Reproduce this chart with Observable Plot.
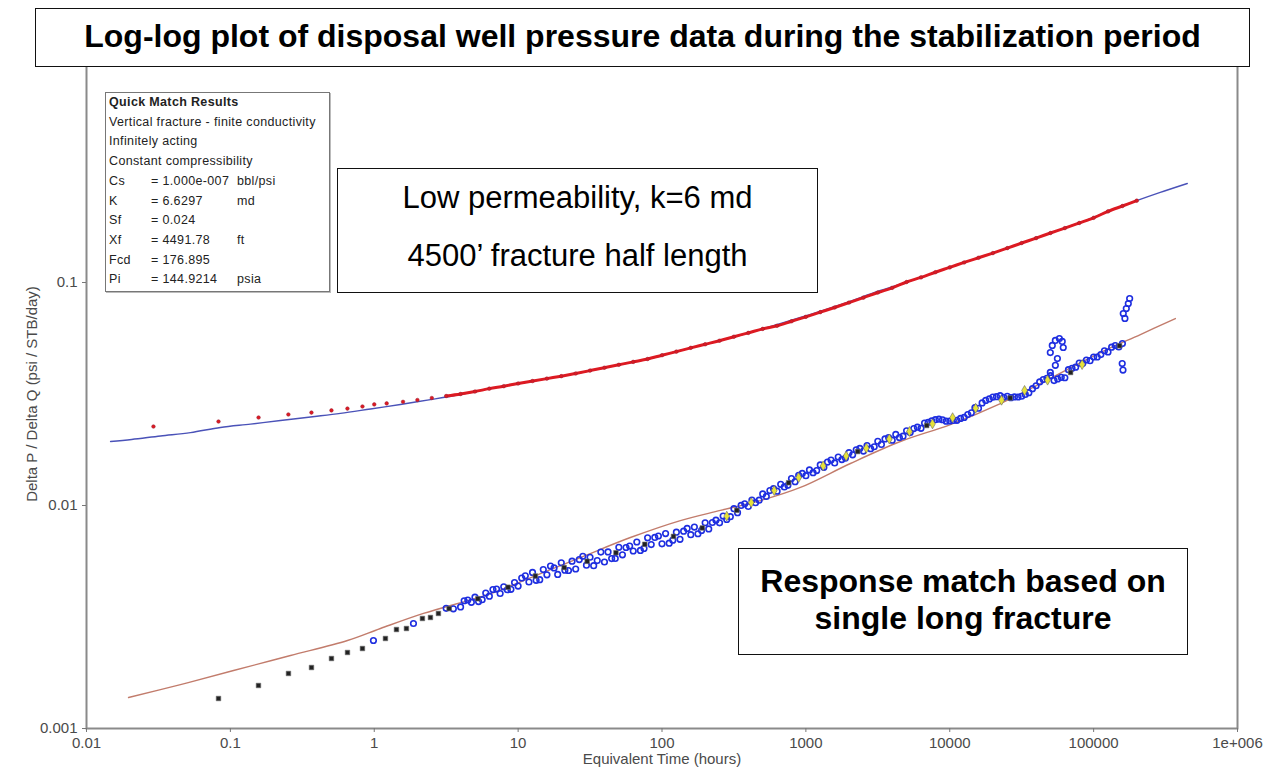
<!DOCTYPE html>
<html><head><meta charset="utf-8">
<script src="https://cdn.jsdelivr.net/npm/d3@7"></script>
<script src="https://cdn.jsdelivr.net/npm/@observablehq/plot@0.6"></script>
<style>
body{margin:0;background:#fff;font-family:Arial,"Liberation Sans",sans-serif;}
#wrap{position:relative;width:1270px;height:772px;overflow:hidden;background:#fff}
#chart{position:absolute;left:0;top:0}
.box{position:absolute;background:#fff;box-sizing:border-box}
#title{left:35px;top:8px;width:1215px;height:59px;border:1.5px solid #111;font-weight:bold;font-size:32px;text-align:center;line-height:55px;color:#000}
#qm{left:105px;top:92px;width:225px;height:200px;border:1px solid #777;box-shadow:1px 1px 0 #bbb;font-size:12.5px;letter-spacing:0.35px;color:#222;padding:0 0 0 3px;line-height:19.7px}
#qm .r{white-space:nowrap}
#qm .a{display:inline-block;width:42px}
#qm .b{display:inline-block;width:86px}
#perm{left:337px;top:168px;width:481px;height:125px;border:1.5px solid #111;font-size:31px;text-align:center;color:#000}
#perm div{position:absolute;left:0;right:0}
#resp{left:738px;top:548px;width:450px;height:107px;border:1.5px solid #111;font-size:32px;font-weight:bold;text-align:center;color:#000}
#resp div{position:absolute;left:0;right:0}
</style></head><body><div id="wrap"><div id="chart"></div></div>
<script>
// ---------- data ----------
const xTicks = [0.01, 0.1, 1, 10, 100, 1000, 10000, 100000, 1000000];
const yTicks = [0.001, 0.01, 0.1];

// upper model curve (blue line)
const upperModelT = [0.0147,0.0206,0.0327,0.0528,0.0853,0.138,0.223,0.361,0.582,0.942,1.52,2.46,3.97,6.43,12.2,23.1,43.8,83,134,255,483,916,1738,3296,6252,11858,22491,42658,80910,130617,201372,290402,447713];
const upperModelV = [0.01936,0.01977,0.02051,0.02123,0.02239,0.02317,0.02404,0.02495,0.02588,0.0271,0.02838,0.02985,0.03148,0.0335,0.03597,0.03864,0.04198,0.0456,0.04955,0.05495,0.06152,0.06966,0.07962,0.09204,0.1052,0.1216,0.139,0.1607,0.1858,0.2104,0.2333,0.2535,0.278];

// upper measured data (red)
const redT = [0.0292,0.0827,0.157,0.253,0.366,0.504,0.651,0.828,1.0,1.22,1.585,1.995,2.512,3.162,3.981,5.012,6.31,7.943,10,12.59,15.85,19.95,25.12,31.62,39.81,50.12,63.1,79.43,100,125.9,158.5,199.5,251.2,316.2,398.1,501.2,631,794.3,1000,1259,1585,1995,2512,3162,3981,5012,6310,7943,10000,12590,15850,19950,25120,31620,39810,50120,63100,79430,100000,125900,158500,199500];
const redV = [0.0226,0.0238,0.0248,0.0256,0.0261,0.0267,0.0272,0.0278,0.0284,0.0287,0.02917,0.02972,0.03034,0.03097,0.03162,0.03243,0.03342,0.03428,0.03524,0.03614,0.03707,0.03802,0.03908,0.04027,0.0415,0.04276,0.04406,0.04539,0.04721,0.04898,0.05093,0.05284,0.05483,0.05715,0.05943,0.06194,0.06397,0.06699,0.07015,0.07362,0.07727,0.08128,0.08551,0.09016,0.09462,0.1005,0.1054,0.1112,0.1169,0.123,0.1291,0.1355,0.1426,0.1503,0.1581,0.1667,0.1754,0.1849,0.195,0.2084,0.2203,0.2328];

// lower model curve (brown line)
const lowerModelT = [0.0196,0.045,0.1052,0.2618,0.6516,1.104,2.198,6.427,14.3,27.1,60.29,134.2,254.6,483,916.1,2039,4538,10096,22491,50003,111429,211349,369828];
const lowerModelV = [0.001377,0.001574,0.00182,0.002124,0.002481,0.002808,0.003281,0.004027,0.004954,0.005843,0.007184,0.008561,0.009505,0.01052,0.01205,0.01543,0.01936,0.02307,0.02864,0.03715,0.04853,0.05844,0.0689];

// lower data: black squares
const blackT = [0.0827,0.1568,0.2534,0.3662,0.5042,0.6515,0.8279,1.196,1.427,1.674,2.162,2.458,2.793,3.311,5.248,8.511,13.18,20.89,30.2,47.86,75.86,120.2,190.5,331.1,758.6,2291,6918,26300,69180,151400];
const blackV = [0.001363,0.001559,0.001765,0.001877,0.00206,0.002192,0.002284,0.002533,0.002779,0.002808,0.003114,0.003146,0.00328,0.00345,0.00382,0.0043,0.00483,0.00527,0.00562,0.00614,0.0067,0.00727,0.00793,0.00951,0.01265,0.01746,0.02284,0.03034,0.03948,0.05204];

// lower data: blue circles
const blueT = [0.987,1.873,
 3.162,3.981,5.012,6.31,7.943,10,12.59,15.85,19.95,25.12,31.62,39.81,50.12,63.1,79.43,100,125.9,158.5,199.5,251.2,316.2,398.1,501.2,631,794.3,1000,1259,1585,1995,2512,3162,3981,5012,6310,7943,10000,12590,15850,19950,25120,31620,39810,50120,63100,79430,100000,125900,158500,
 3.548,4.467,5.623,7.079,8.913,11.22,14.13,17.78,22.39,28.18,35.48,44.67,56.23,70.79,89.13,112.2,141.3,177.8,223.9,281.8,354.8,446.7,562.3,707.9,891.3,1122,1413,1778,2239,2818,3548,4467,5623,7079,8913,11220,14130,17780,22390,28180,35480,44670,56230,70790,89130,112200,141300,
 4.217,5.309,6.683,8.414,10.59,13.34,16.79,21.13,26.61,33.5,42.17,53.09,66.83,84.14,105.9,133.4,167.9,211.3,266.1,335,421.7,530.9,668.3,841.4,1059,1334,1679,2113,2661,3350,4217,5309,6683,8414,10590,13340,16790,21130,26610,33500,42170,53090,66830,84140,105900,133400,
 4.732,5.957,7.499,9.441,11.89,14.96,18.84,23.71,29.85,37.58,47.32,59.57,74.99,94.41,118.9,149.6,188.4,237.1,298.5,375.8,473.2,595.7,749.9,944.1,1189,1496,1884,2371,2985,3758,4732,5957,7499,9441,11890,14960,18840,23710,29850,37580,47320,59570,74990,94410,118900,149600,
 50000,51600,54200,57800,60500,61500,56000,54200,50000,
 160700,165000,168700,174200,178000,158000,160000];
const blueV = [0.002481,0.002957,
 0.00346,0.00351,0.00388,0.00392,0.00432,0.00435,0.00501,0.00489,0.00553,0.00519,0.00586,0.00558,0.00649,0.00625,0.00716,0.00673,0.00759,0.0074,0.00837,0.00836,0.00968,0.00991,0.01127,0.01159,0.01321,0.01361,0.01521,0.01552,0.01726,0.01754,0.01941,0.01963,0.02163,0.02218,0.02427,0.02393,0.02483,0.02729,0.03062,0.0309,0.0309,0.03443,0.0382,0.0374,0.0435,0.0463,0.0488,0.0532,
 0.00344,0.00377,0.00378,0.00422,0.00421,0.00484,0.00465,0.00525,0.00511,0.00592,0.00566,0.00578,0.00648,0.00629,0.00719,0.00678,0.00767,0.00747,0.00839,0.00866,0.01001,0.0103,0.01167,0.01212,0.01366,0.01403,0.01565,0.01607,0.01776,0.01799,0.01989,0.02018,0.02213,0.02358,0.02424,0.0241,0.02606,0.02958,0.03108,0.03069,0.03206,0.03669,0.03694,0.04126,0.04493,0.04753,0.05219,
 0.00374,0.00371,0.0042,0.00419,0.00473,0.00462,0.00535,0.00513,0.00572,0.00537,0.00619,0.00601,0.00686,0.00668,0.00748,0.00705,0.008,0.00785,0.00897,0.00929,0.01058,0.01098,0.01245,0.01279,0.01444,0.01483,0.0165,0.01687,0.01856,0.01879,0.02084,0.02123,0.02344,0.02438,0.02407,0.02556,0.02884,0.03076,0.03045,0.03148,0.03581,0.03631,0.04064,0.04345,0.04634,0.05129,
 0.00368,0.00405,0.00403,0.00451,0.00454,0.00516,0.00491,0.00563,0.0054,0.00618,0.00579,0.00658,0.00642,0.0073,0.00699,0.00789,0.00773,0.00859,0.00891,0.01017,0.01056,0.0119,0.01231,0.01392,0.01434,0.01598,0.01631,0.01802,0.01834,0.02017,0.02046,0.02244,0.02394,0.02388,0.02457,0.02745,0.03006,0.03057,0.03066,0.03342,0.03721,0.03755,0.04171,0.04459,0.04943,0.05143,
 0.0485,0.0522,0.055,0.0561,0.0544,0.0511,0.0456,0.0425,0.0395,
 0.0726,0.069,0.0764,0.0805,0.0847,0.0433,0.0405];

// lower data: yellow diamonds
const yellowT = [281.8,416.9,602.6,891.3,1318,1905,2630,3802,5248,7586,10470,15140,22910,33110,47860,83180];
const yellowV = [0.00896,0.0103,0.01167,0.01335,0.01506,0.01667,0.01807,0.01986,0.02148,0.02323,0.02477,0.02729,0.02965,0.03281,0.03648,0.04285];

// text
const titleText = "Log-log plot of disposal well pressure data during the stabilization period";
const xLabel = "Equivalent Time (hours)";
const yLabel = "Delta P / Delta Q (psi / STB/day)";
const qmTitle = "Quick Match Results";
const qmLines = ["Vertical fracture - finite conductivity", "Infinitely acting", "Constant compressibility"];
const qmNames = ["Cs", "K", "Sf", "Xf", "Fcd", "Pi"];
const qmValues = ["= 1.000e-007", "= 6.6297", "= 0.024", "= 4491.78", "= 176.895", "= 144.9214"];
const qmUnits = ["bbl/psi", "md", "", "ft", "", "psia"];
const permLines = ["Low permeability, k=6 md", "4500\u2019 fracture half length"];
const respLines = ["Response match based on", "single long fracture"];

// ---------- build ----------
const zip = (T, V) => T.map((t, i) => ({t, v: V[i]}));
const upperModel = zip(upperModelT, upperModelV);
const red = zip(redT, redV);
const lowerModel = zip(lowerModelT, lowerModelV);
const black = zip(blackT, blackV);
const blue = zip(blueT, blueV);
const yellow = zip(yellowT, yellowV);

const fmtX = d => d === 1e6 ? "1e+006" : String(d);

const chart = Plot.plot({
  width: 1270, height: 772,
  marginLeft: 86, marginRight: 33, marginTop: 59, marginBottom: 44,
  x: {type: "log", domain: [0.01, 1e6]},
  y: {type: "log", domain: [0.001, 1]},
  style: {fontFamily: "Arial, 'Liberation Sans', sans-serif", fontSize: "15px", color: "#4a4a4a", background: "#fff", overflow: "visible"},
  marks: [
    Plot.line(upperModel, {x: "t", y: "v", stroke: "#4a52b8", strokeWidth: 1.4, curve: "catmull-rom"}),
    Plot.line(lowerModel, {x: "t", y: "v", stroke: "#c27c6c", strokeWidth: 1.4, curve: "catmull-rom"}),
    Plot.line(red.filter(d => d.t >= 3), {x: "t", y: "v", stroke: "#dd1a22", strokeWidth: 3, curve: "catmull-rom"}),
    Plot.dot(red, {x: "t", y: "v", r: 1.8, fill: "#dd1a22", stroke: "#9a1a30", strokeWidth: 0.5}),
    Plot.dot(blue, {x: "t", y: "v", r: 2.8, stroke: "#1e2ee0", strokeWidth: 1.6, fill: "none"}),
    Plot.dot(yellow, {x: "t", y: "v", symbol: "diamond", r: 3, fill: "#e6e23a", stroke: "#666", strokeWidth: 0.6}),
    Plot.dot(black, {x: "t", y: "v", symbol: "square", r: 2.6, fill: "#222", stroke: "#777", strokeWidth: 0.6}),
    Plot.frame({stroke: "#8a8a8a", strokeWidth: 2}),
    Plot.axisX({ticks: xTicks, tickFormat: fmtX, tickSize: 4, stroke: "#777", label: xLabel, labelAnchor: "center", labelOffset: 35, labelArrow: "none", fill: "#4a4a4a"}),
    Plot.axisY({ticks: yTicks, tickFormat: d => String(d), tickSize: 4, stroke: "#777", label: yLabel, labelAnchor: "center", labelOffset: 60, labelArrow: "none", fill: "#4a4a4a"})
  ]
});
const wrap = document.getElementById("wrap");
document.getElementById("chart").appendChild(chart);

function box(id, html) { const d = document.createElement("div"); d.className = "box"; d.id = id; d.innerHTML = html; wrap.appendChild(d); return d; }
box("title", titleText);
let qm = `<div class="r"><b>${qmTitle}</b></div>` + qmLines.map(s => `<div class="r">${s}</div>`).join("") +
  qmNames.map((n, i) => `<div class="r"><span class="a">${n}</span><span class="b">${qmValues[i]}</span><span>${qmUnits[i]}</span></div>`).join("");
box("qm", qm);
box("perm", `<div style="top:11px">${permLines[0]}</div><div style="top:69px">${permLines[1]}</div>`);
box("resp", `<div style="top:14px">${respLines[0]}</div><div style="top:51px">${respLines[1]}</div>`);
</script>
</body></html>
